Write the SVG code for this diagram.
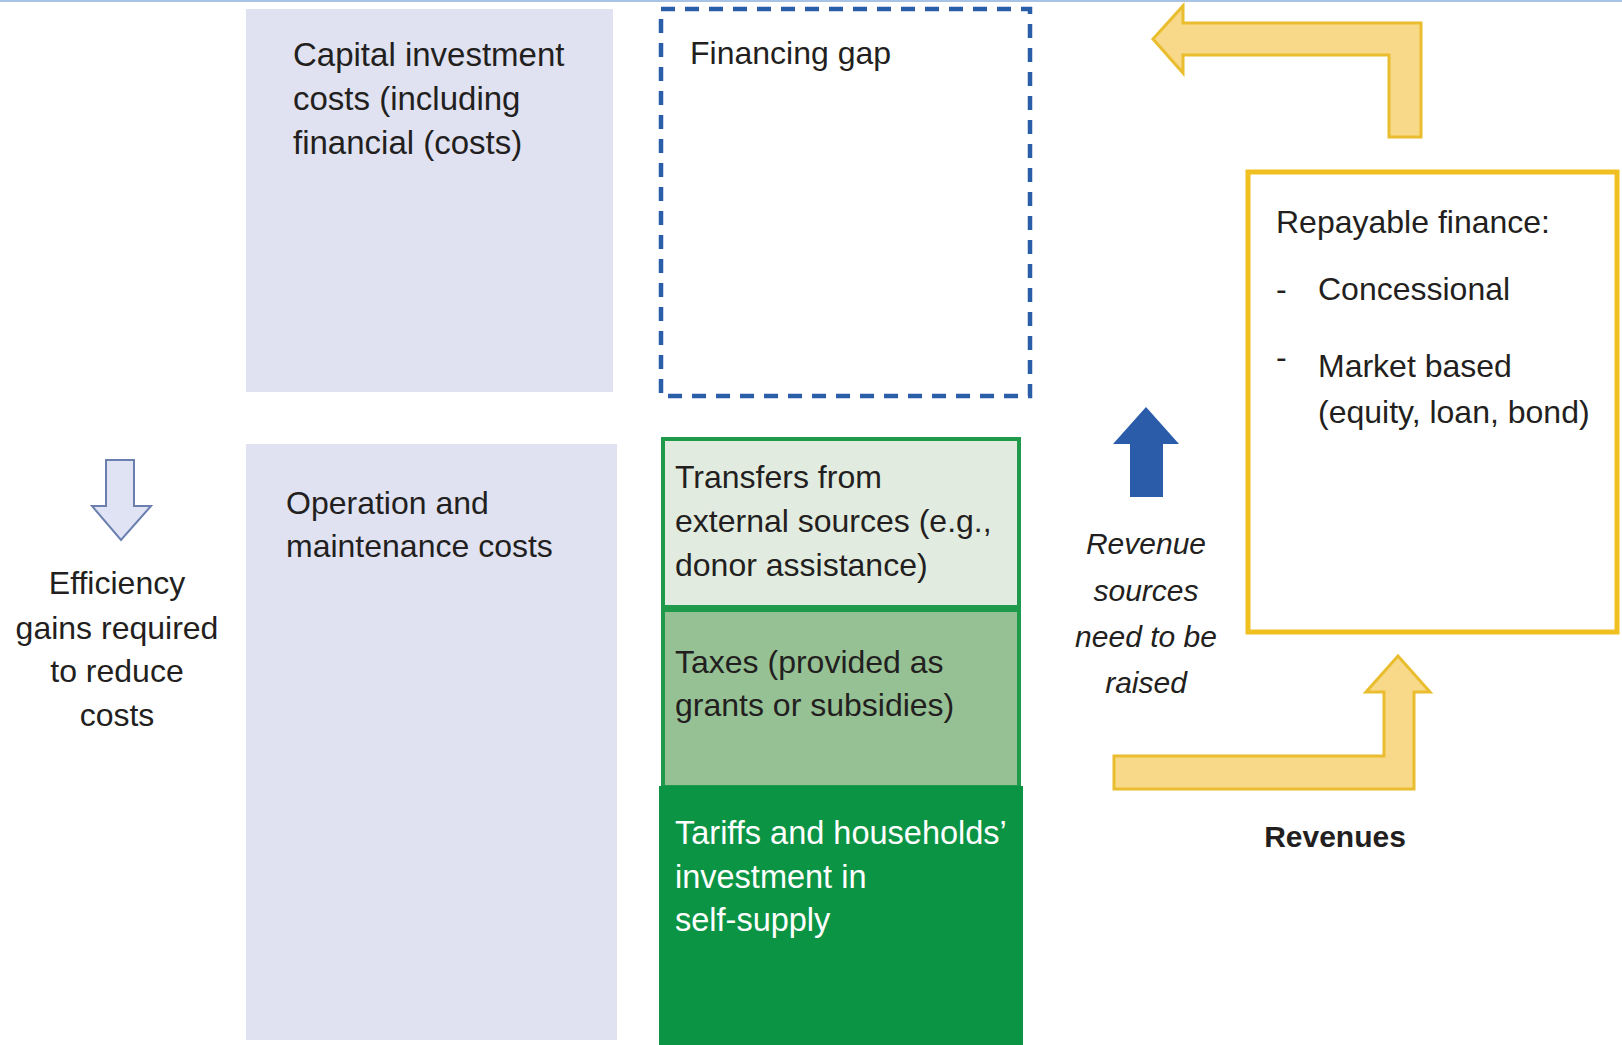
<svg xmlns="http://www.w3.org/2000/svg" width="1622" height="1045" viewBox="0 0 1622 1045">
<style>
text{font-family:"Liberation Sans",Arial,sans-serif;font-size:32px;fill:#231f20}
.cost{fill:#e0e2f1}
.yarrow{fill:#f8d98a;stroke:#e9bd2d;stroke-width:3;stroke-linejoin:miter}
.it{font-style:italic;font-size:30px}
.w{fill:#ffffff}
</style>
<rect width="1622" height="1045" fill="#ffffff"/>
<rect x="0" y="0" width="1622" height="2" fill="#a9c3e6"/>

<g id="capital">
<rect class="cost" x="246" y="9" width="367" height="383"/>
<text x="293" y="66" style="font-size:33px">Capital investment</text>
<text x="293" y="110" style="font-size:33px">costs (including</text>
<text x="293" y="154" style="font-size:33px">financial (costs)</text>
</g>

<g id="financing-gap">
<rect x="661" y="9" width="369" height="387" fill="none" stroke="#2b5ea8" stroke-width="4.5" stroke-dasharray="14 10"/>
<text x="690" y="64">Financing gap</text>
</g>

<g id="om">
<rect class="cost" x="246" y="444" width="371" height="596"/>
<text x="286" y="514">Operation and</text>
<text x="286" y="557">maintenance costs</text>
</g>

<g id="efficiency">
<polygon points="106,460 134,460 134,506 151,506 121,540 92,506 106,506" fill="#dfe3f3" stroke="#6a7fb0" stroke-width="2"/>
<text x="117" y="594" text-anchor="middle">Efficiency</text>
<text x="117" y="639" text-anchor="middle">gains required</text>
<text x="117" y="682" text-anchor="middle">to reduce</text>
<text x="117" y="726" text-anchor="middle">costs</text>
</g>

<g id="transfers">
<rect x="663" y="439" width="356" height="168" fill="#e2ebe0" stroke="#1f9a4a" stroke-width="4"/>
<text x="675" y="488">Transfers from</text>
<text x="675" y="532">external sources (e.g.,</text>
<text x="675" y="576">donor assistance)</text>
</g>

<g id="taxes">
<rect x="663" y="610" width="356" height="177" fill="#96c194" stroke="#1f9a4a" stroke-width="4"/>
<text x="675" y="673">Taxes (provided as</text>
<text x="675" y="716">grants or subsidies)</text>
</g>

<g id="tariffs">
<rect x="659" y="786" width="364" height="259" fill="#0c9445"/>
<text class="w" x="675" y="844" style="font-size:32.5px">Tariffs and households’</text>
<text class="w" x="675" y="888" style="font-size:32.5px">investment in</text>
<text class="w" x="675" y="931" style="font-size:32.5px">self-supply</text>
</g>

<g id="repayable">
<rect x="1248" y="172" width="369" height="460" fill="#ffffff" stroke="#f0c020" stroke-width="5"/>
<text x="1276" y="233">Repayable finance:</text>
<text x="1276" y="300">-</text>
<text x="1318" y="300">Concessional</text>
<text x="1276" y="368">-</text>
<text x="1318" y="377">Market based</text>
<text x="1318" y="423">(equity, loan, bond)</text>
</g>

<g id="revenue-note">
<text class="it" x="1146" y="554" text-anchor="middle">Revenue</text>
<text class="it" x="1146" y="601" text-anchor="middle">sources</text>
<text class="it" x="1146" y="647" text-anchor="middle">need to be</text>
<text class="it" x="1146" y="693" text-anchor="middle">raised</text>
</g>

<g id="revenues-label">
<text x="1335" y="847" text-anchor="middle" style="font-weight:bold;font-size:30px">Revenues</text>
</g>

<g id="connectors">
<polygon class="yarrow" points="1153,39 1183,6 1183,23 1421,23 1421,137 1389,137 1389,55 1183,55 1183,73"/>
<polygon class="yarrow" points="1114,756 1384,756 1384,692 1366,692 1398,656 1430,692 1414,692 1414,789 1114,789"/>
<polygon points="1146,407 1179,444 1163,444 1163,497 1130,497 1130,444 1113,444" fill="#2a5caa"/>
</g>
</svg>
